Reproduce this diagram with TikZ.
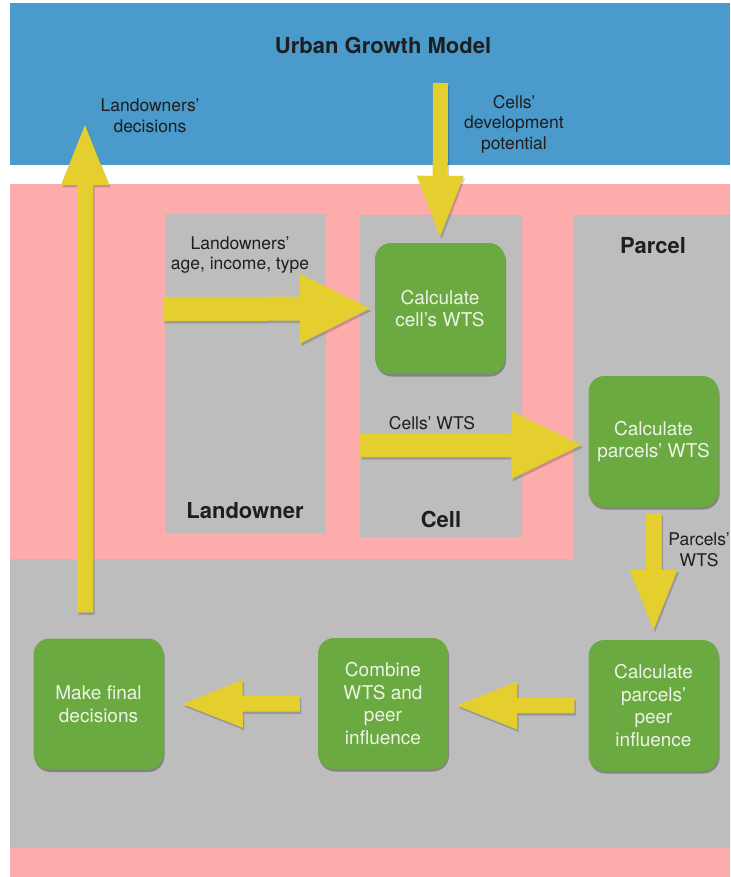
\documentclass[tikz,border=0pt]{standalone}
\usepackage{fontspec}
\setmainfont{TeX Gyre Heros}
\usetikzlibrary{calc,shadows}

\definecolor{modelblue}{HTML}{4A9ACB}
\definecolor{zonepink}{HTML}{FDACAC}
\definecolor{zonegray}{HTML}{BDBDBD}
\definecolor{stepgreen}{HTML}{6AAA40}
\definecolor{flowyellow}{HTML}{E5CF2F}
\definecolor{inktext}{HTML}{1E1E1E}
\definecolor{steptext}{HTML}{EEF3E8}

\tikzset{
  zonebox/.style={fill=zonegray, draw=none, inner sep=0pt},
  stepbox/.style={fill=stepgreen, draw=none, rounded corners=16pt, inner sep=0pt,
    minimum width=130pt, minimum height=131pt, align=center, text=steptext,
    font=\fontsize{19}{22.5}\selectfont,
    drop shadow={shadow xshift=1pt, shadow yshift=-2.5pt, opacity=0.3, fill=black}},
  flowlabel/.style={align=center, text=inktext, inner sep=0pt,
    font=\fontsize{17.5}{20.5}\selectfont},
  zonelabel/.style={text=inktext, inner sep=0pt, font=\bfseries\fontsize{22}{26}\selectfont},
  % broad flow as one filled outline:
  % #1 half shaft width, #2 head length, #3 half head width
  fatarrow/.style n args={3}{fill=flowyellow, draw=none,
    preaction={fill=black, opacity=0.18,
      transform canvas={shift={(1.5pt,-2.5pt)}}},
    to path={let \p1=(\tikztostart), \p2=(\tikztotarget),
      \n1={atan2(\y2-\y1,\x2-\x1)},
      \n2={veclen(\x2-\x1,\y2-\y1)-#2} in
      ($(\p1)+(\n1+90:#1)$)
      -- ($(\p1)+(\n1:{\n2*1pt})+(\n1+90:#1)$)
      -- ($(\p1)+(\n1:{\n2*1pt})+(\n1+90:#3)$)
      -- (\p2)
      -- ($(\p1)+(\n1:{\n2*1pt})+(\n1-90:#3)$)
      -- ($(\p1)+(\n1:{\n2*1pt})+(\n1-90:#1)$)
      -- ($(\p1)+(\n1-90:#1)$) -- cycle}},
}

\begin{document}
\begin{tikzpicture}[x=1pt, y=-1pt]
\useasboundingbox (0,0) rectangle (730,877);
\fill[white] (0,0) rectangle (730,877);

% model band and study area
\fill[modelblue] (10,3) rectangle (730,165);
\fill[zonepink] (10,184) rectangle (730,877);
\fill[zonegray] (573,215) -- (730,215) -- (730,848) -- (10,848) -- (10,559)
  -- (573,559) -- cycle;

% landowner and cell zones
\node[zonebox, minimum width=161pt, minimum height=319pt] (lobox) at (245.5,373.5) {};
\node[zonebox, minimum width=162pt, minimum height=322pt] (cellbox) at (441,376) {};

% zone titles
\node[zonelabel] (title) at (383,45) {Urban Growth Model};
\node[zonelabel] (lolabel) at (245,511) {Landowner};
\node[zonelabel] (celllabel) at (441,519) {Cell};
\node[zonelabel] (parcellabel) at (653,246) {Parcel};

% processing steps
\node[stepbox] (cellwts) at (440,308.5) {Calculate\\cell’s WTS};
\node[stepbox] (parcelwts) at (653.5,441.5) {Calculate\\parcels’ WTS};
\node[stepbox] (peer) at (653.5,705.5) {Calculate\\parcels’\\peer\\influence};
\node[stepbox] (combine) at (383,703.5) {Combine\\WTS and\\peer\\influence};
\node[stepbox] (final) at (98.5,704) {Make final\\decisions};

% free ends of the flows
\coordinate (decout) at (85,125);
\coordinate (potin) at (440.5,83);
\coordinate (lostart) at (163,309);
\coordinate (wtsstart) at (360,445);

% flows
\path[fatarrow={8pt}{60pt}{24pt}] ([xshift=-13.5pt,yshift=26pt]final.north) to (decout);
\path[fatarrow={7.5pt}{61pt}{23.5pt}] (potin) to ([yshift=6pt]cellwts.north);
\path[fatarrow={12pt}{70pt}{35pt}] (lostart) to ([xshift=-5pt]cellwts.west);
\path[fatarrow={12pt}{70pt}{34pt}] (wtsstart) to ([xshift=-7pt]parcelwts.west |- wtsstart);
\path[fatarrow={8pt}{60pt}{24pt}] ([yshift=-6pt]parcelwts.south) to ([yshift=10pt]peer.north);
\path[fatarrow={7.5pt}{60pt}{24pt}] ([xshift=-14pt]peer.west) to ([xshift=9pt]combine.east |- peer.west);
\path[fatarrow={8pt}{60pt}{24pt}] ([xshift=-18pt]combine.west) to ([xshift=19pt]final.east);

% flow labels
\node[flowlabel] (declabel) at (150,116) {Landowners’\\decisions};
\node[flowlabel] (potlabel) at (514,124) {Cells’\\development\\potential};
\node[flowlabel] (lolabeltext) at (240,255) {Landowners’\\age, income, type};
\node[flowlabel] (wtslabel) at (432,423) {Cells’ WTS};
\node[flowlabel] (pwtslabel) at (699,550) {Parcels’\\WTS};
\end{tikzpicture}
\end{document}
